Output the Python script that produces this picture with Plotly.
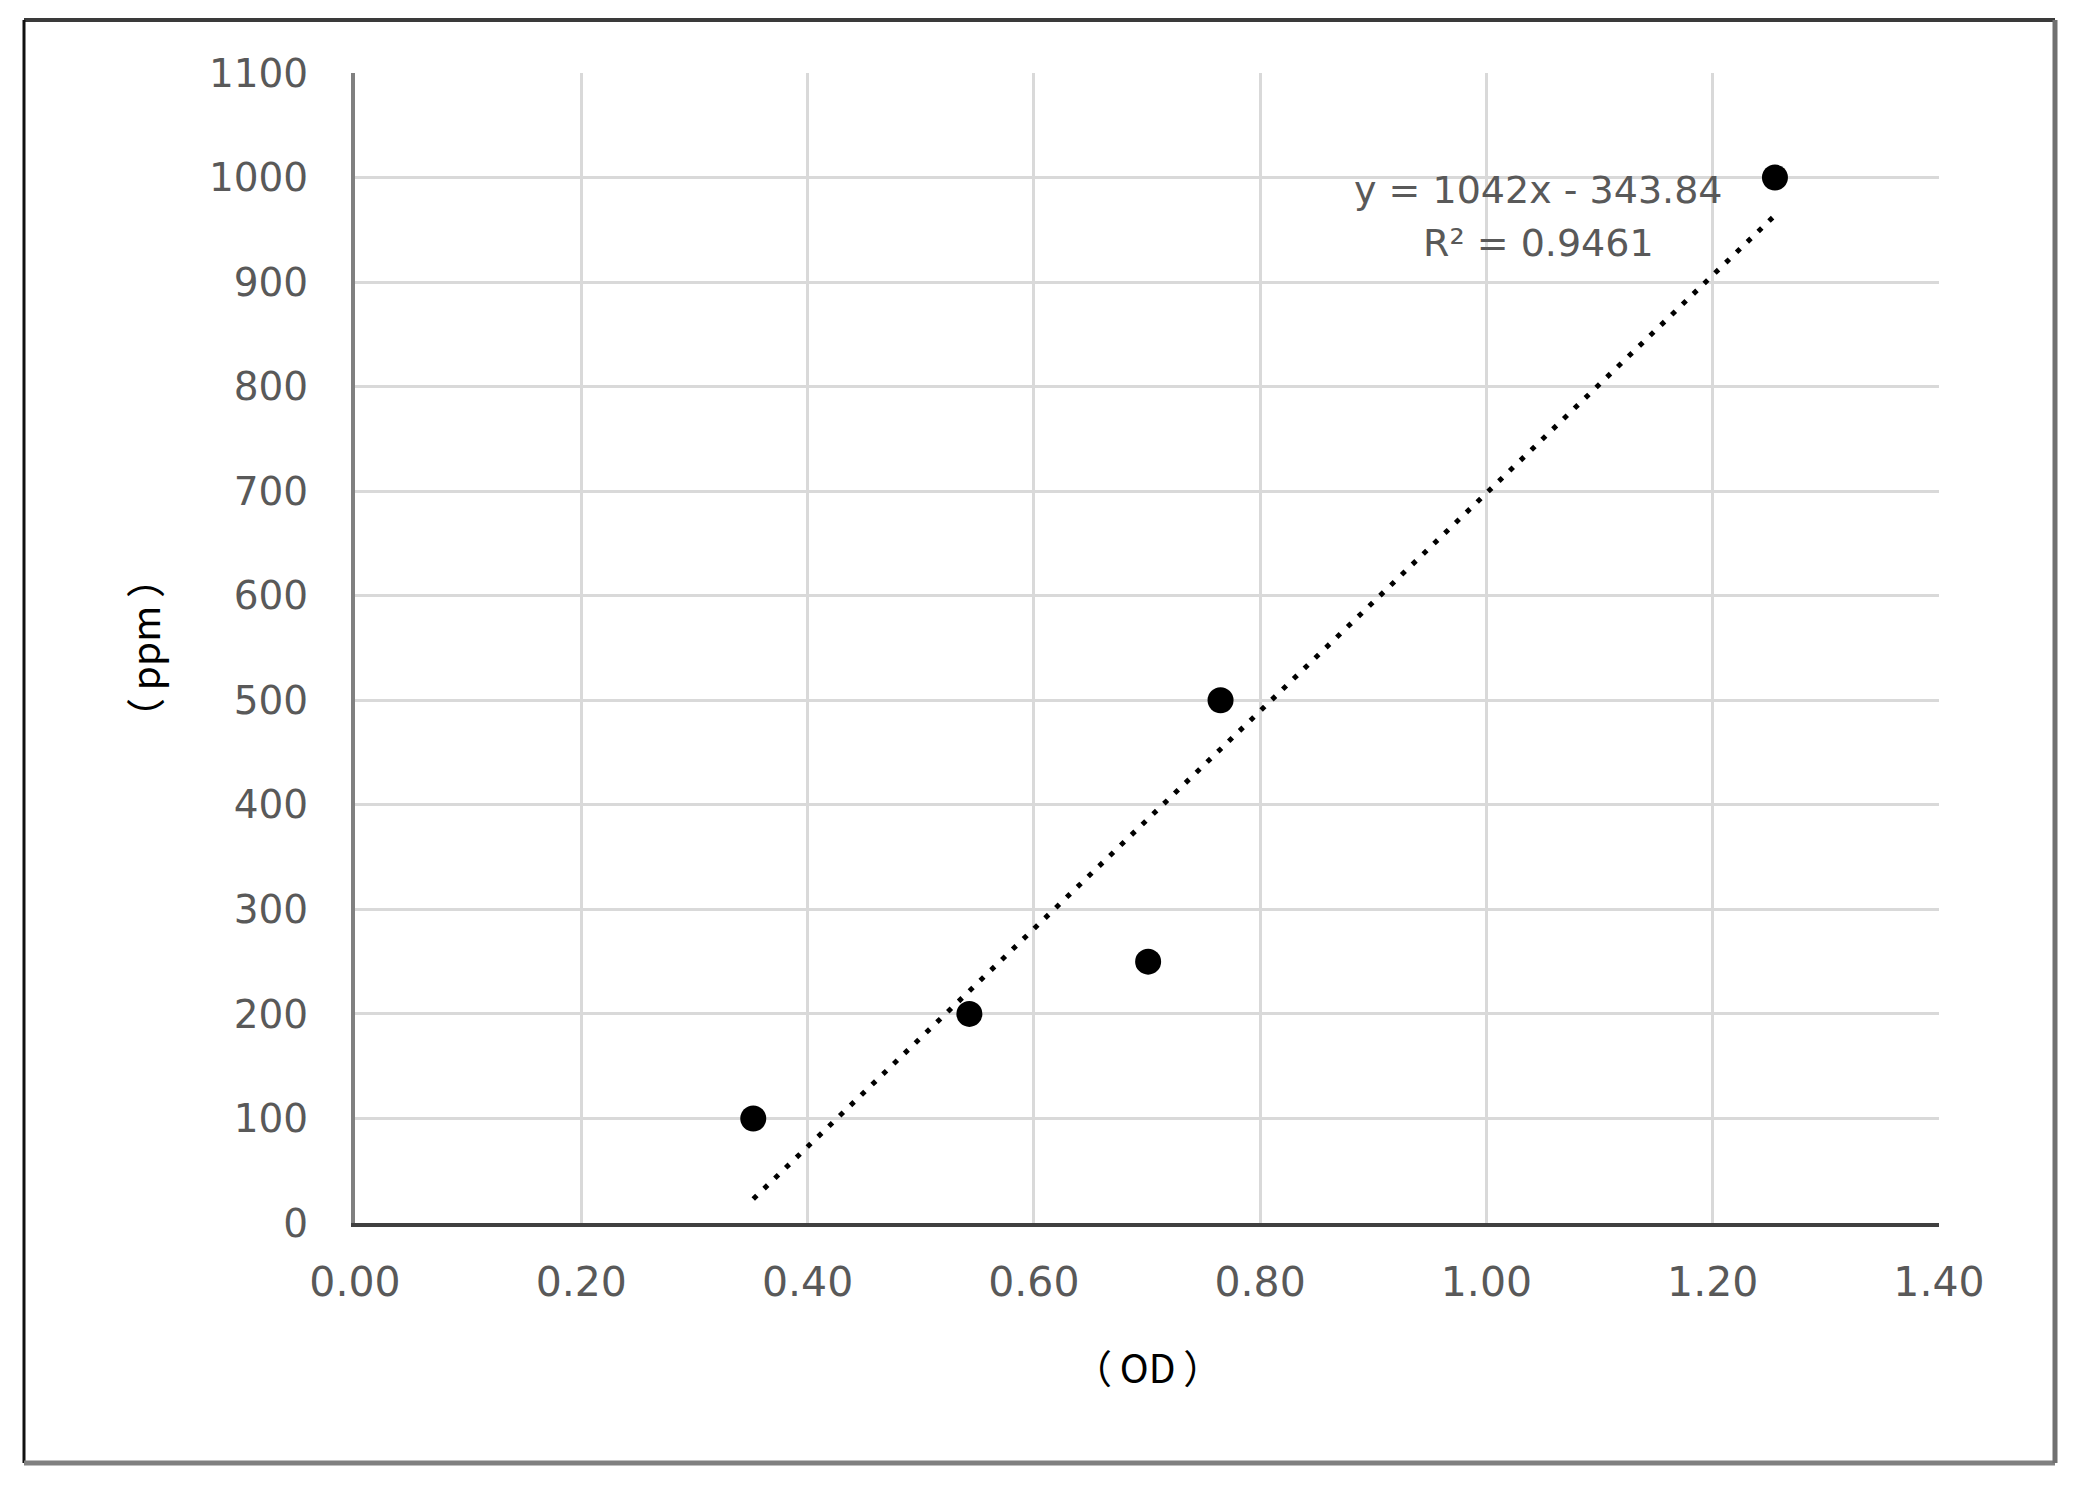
import plotly.graph_objects as go

# Data
od_values = [0.352, 0.543, 0.701, 0.765, 1.255]
ppm_values = [100, 200, 250, 500, 1000]
fit_slope = 1042
fit_intercept = -343.84
eq_text = "y = 1042x - 343.84"
r2_text = "R² = 0.9461"
x_ticks = [0.0, 0.2, 0.4, 0.6, 0.8, 1.0, 1.2, 1.4]
y_ticks = list(range(0, 1101, 100))
x_title = "（\u2009OD\u2009）"
y_title = "（\u2009ppm\u2009）"

W, H = 2079, 1486
L, R, T, B = 355, 140, 73, 263
pw, ph = W - L - R, H - T - B

def px(xpix):
    return (xpix - L) / pw

def py(ypix):
    return (H - B - ypix) / ph

fig = go.Figure()

trend_x = [min(od_values), max(od_values)]
trend_y = [fit_slope * v + fit_intercept for v in trend_x]
fig.add_trace(go.Scatter(
    x=trend_x, y=trend_y, mode="lines",
    line=dict(color="black", width=5, dash="5px,10px"),
    hoverinfo="skip", showlegend=False))

fig.add_trace(go.Scatter(
    x=od_values, y=ppm_values, mode="markers",
    marker=dict(color="black", size=26, line=dict(width=0)),
    showlegend=False))

fig.update_xaxes(
    range=[0, 1.4], tickvals=x_ticks,
    ticktext=[f"{v:.2f}" for v in x_ticks],
    showgrid=True, gridcolor="#d9d9d9", gridwidth=2.5,
    zeroline=False, showline=True, linecolor="#404040", linewidth=4,
    ticks="outside", ticklen=20, tickcolor="rgba(0,0,0,0)",
    tickfont=dict(family="DejaVu Sans", size=41, color="#595959"),
    layer="above traces")
fig.update_yaxes(
    range=[0, 1100], tickvals=y_ticks,
    showgrid=True, gridcolor="#d9d9d9", gridwidth=2.5,
    zeroline=False, showline=True, linecolor="#808080", linewidth=4,
    ticks="outside", ticklen=35, tickcolor="rgba(0,0,0,0)",
    tickfont=dict(family="DejaVu Sans", size=39, color="#595959"))

annotations = [
    dict(x=1.0456, y=988, xref="x", yref="y", text=eq_text, showarrow=False,
         font=dict(family="DejaVu Sans", size=38, color="#595959"),
         xanchor="center", yanchor="middle"),
    dict(x=1.0456, y=937, xref="x", yref="y", text=r2_text, showarrow=False,
         font=dict(family="DejaVu Sans", size=38, color="#595959"),
         xanchor="center", yanchor="middle"),
    dict(x=0.5, y=py(1366), xref="paper", yref="paper", text=x_title,
         showarrow=False, font=dict(family="Noto Sans CJK JP", size=39, color="black"),
         xanchor="center", yanchor="middle"),
    dict(x=px(143), y=0.5, xref="paper", yref="paper", text=y_title,
         showarrow=False, textangle=-90,
         font=dict(family="Noto Sans CJK JP", size=39, color="black"),
         xanchor="center", yanchor="middle"),
]

bx0, bx1 = px(24), px(2055)
by0, by1 = py(1463), py(20)
shapes = [
    dict(type="line", xref="paper", yref="paper", x0=bx0, x1=bx1, y0=by1, y1=by1,
         line=dict(color="#3a3a3a", width=4)),
    dict(type="line", xref="paper", yref="paper", x0=bx0, x1=bx0, y0=by0, y1=by1,
         line=dict(color="#111111", width=3)),
    dict(type="line", xref="paper", yref="paper", x0=bx0, x1=bx1, y0=by0, y1=by0,
         line=dict(color="#808080", width=5)),
    dict(type="line", xref="paper", yref="paper", x0=bx1, x1=bx1, y0=by0, y1=by1,
         line=dict(color="#707070", width=5)),
]

fig.update_layout(
    width=W, height=H, autosize=False,
    margin=dict(l=L, r=R, t=T, b=B, pad=0),
    paper_bgcolor="white", plot_bgcolor="white",
    annotations=annotations, shapes=shapes, showlegend=False)

fig.write_html("out.html", config={"displayModeBar": False},
               post_script="document.body.style.margin='0';")
